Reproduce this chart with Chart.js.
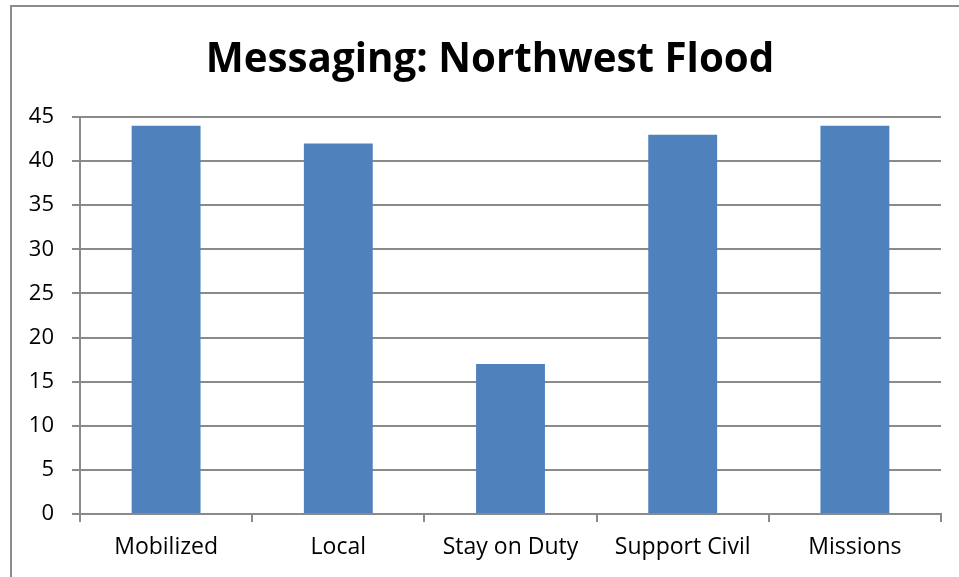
<!DOCTYPE html>
<html>
<head>
<meta charset="utf-8">
<style>
  html, body { margin: 0; padding: 0; background: #fff; }
  #wrap { width: 959px; height: 577px; position: relative; }
</style>
<script src="https://cdn.jsdelivr.net/npm/chart.js@4/dist/chart.umd.min.js"></script>
</head>
<body>
<div id="wrap"><canvas id="chart" width="959" height="577"></canvas></div>
<script>
// Chart content
const chartTitle = 'Messaging: Northwest Flood';
const categories = ['Mobilized', 'Local', 'Stay on Duty', 'Support Civil', 'Missions'];
const messageCounts = [44, 42, 17, 43, 44];
const yTicks = [0, 5, 10, 15, 20, 25, 30, 35, 40, 45];

const GRID = '#8a8a8a';
const FONT = '"Open Sans", "Liberation Sans", sans-serif';

// Outer frame plus centred title
const framePlugin = {
  id: 'frame',
  beforeDraw(chart) {
    const ctx = chart.ctx;
    ctx.save();
    ctx.strokeStyle = '#8c8c8c';
    ctx.lineWidth = 2;
    ctx.beginPath();
    ctx.moveTo(11, 577);
    ctx.lineTo(11, 6);
    ctx.lineTo(959, 6);
    ctx.stroke();
    ctx.fillStyle = '#000';
    ctx.font = 'bold 40.3px ' + FONT;
    ctx.textAlign = 'center';
    ctx.textBaseline = 'alphabetic';
    ctx.fillText(chartTitle, 490, 72);
    ctx.restore();
  }
};

new Chart(document.getElementById('chart'), {
  type: 'bar',
  data: {
    labels: categories,
    datasets: [{
      data: messageCounts,
      backgroundColor: '#4f81bd',
      borderWidth: 0,
      categoryPercentage: 0.8,
      barPercentage: 0.5
    }]
  },
  options: {
    responsive: false,
    animation: false,
    events: [],
    layout: { padding: { left: 0, right: 18, top: 117, bottom: 0 } },
    plugins: { legend: { display: false }, title: { display: false }, tooltip: { enabled: false } },
    scales: {
      x: {
        offset: true,
        grid: { offset: true, drawOnChartArea: false, drawTicks: true, tickLength: 8, color: GRID, lineWidth: 2 },
        border: { color: GRID, width: 2 },
        ticks: { color: '#000', font: { family: FONT, size: 23 }, padding: 12, maxRotation: 0 },
        afterFit(scale) { scale.height = 63; }
      },
      y: {
        min: 0, max: 45,
        afterBuildTicks(scale) { scale.ticks = yTicks.map(v => ({ value: v })); },
        grid: { color: GRID, lineWidth: 2, tickLength: 8 },
        border: { color: GRID, width: 2 },
        ticks: { color: '#000', font: { family: FONT, size: 22 }, padding: 18 },
        afterFit(scale) { scale.width = 80; }
      }
    }
  },
  plugins: [framePlugin]
});
</script>
</body>
</html>
